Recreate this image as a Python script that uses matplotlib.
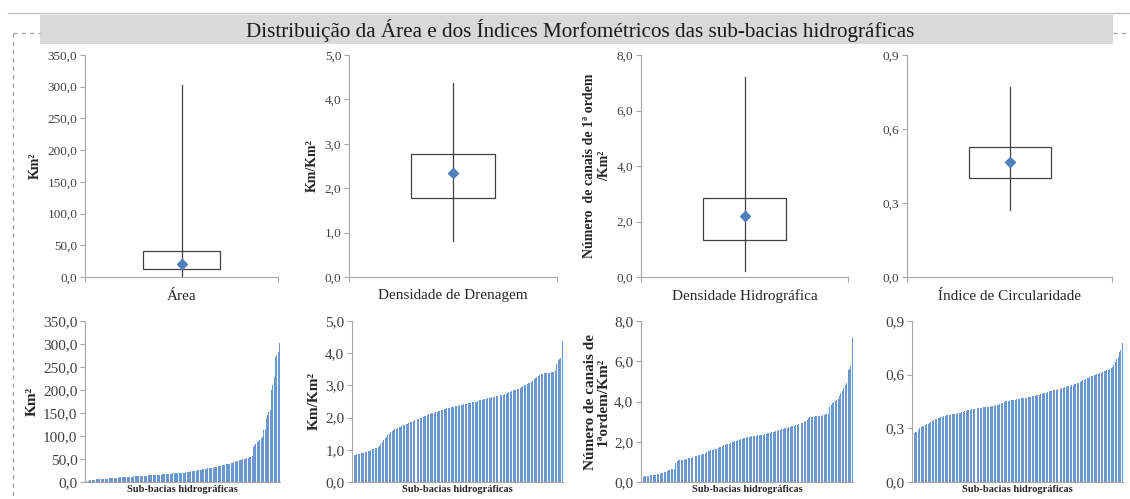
import matplotlib.pyplot as plt
from matplotlib.patches import Rectangle
from matplotlib.lines import Line2D
import numpy as np

plt.rcParams['font.family'] = ['Liberation Serif', 'DejaVu Serif']

W, H = 1130, 499

# dados
titulo = 'Distribuição da Área e dos Índices Morfométricos das sub-bacias hidrográficas'
nomes = ['Área', 'Densidade de Drenagem', 'Densidade Hidrográfica', 'Índice de Circularidade']
ylabels_top = ['Km²', 'Km/Km²', 'Número  de canais de 1ª ordem\n/Km²', '']
ylabels_bot = ['Km²', 'Km/Km²', 'Número de canais de\n1ªordem/Km²', '']
ymax = [350, 5, 8, 0.9]
ystep = [50, 1, 2, 0.3]

# min, q1, mediana, q3, max
stats_area = [1.2, 12.0, 20.0, 41.0, 303.0]
stats_dren = [0.80, 1.78, 2.35, 2.78, 4.37]
stats_hidro = [0.20, 1.35, 2.20, 2.85, 7.20]
stats_circ = [0.27, 0.40, 0.465, 0.525, 0.77]

area = [1.2, 2.0, 3.0, 3.8, 4.4, 4.8, 5.1, 5.4, 5.6, 5.8, 6.0, 6.2,
        6.4, 6.6, 6.8, 7.0, 7.3, 7.6, 7.9, 8.2, 8.5, 8.8, 9.0, 9.2, 9.4,
        9.6, 9.8, 10.0, 10.2, 10.4, 10.6, 10.8, 11.0, 11.2, 11.4, 11.6, 11.8, 12.0,
        12.2, 12.4, 12.6, 12.8, 13.0, 13.2, 13.4, 13.6, 13.8, 14.0, 14.2, 14.4, 14.6,
        14.8, 15.0, 15.2, 15.4, 15.6, 15.8, 16.0, 16.2, 16.5, 16.8, 17.1, 17.4, 17.7,
        18.0, 18.2, 18.4, 18.6, 18.8, 19.0, 19.2, 19.4, 19.6, 19.8, 19.9, 20.0,
        20.5, 21.0, 21.5, 22.0, 22.5, 23.0, 23.5, 24.0, 24.5, 25.0, 25.5, 26.0, 26.5,
        27.0, 27.5, 28.0, 28.5, 29.0, 29.5, 30.0, 30.5, 31.0, 31.5, 32.0, 32.5, 33.0,
        33.8, 34.6, 35.4, 36.2, 37.0, 37.8, 38.4, 39.0, 39.6, 40.2, 41.0,
        42.0, 43.0, 44.0, 45.0, 46.0, 47.0, 48.0, 48.5, 49.0, 50.0, 51.0, 52.0, 53.0, 54.0, 55.0,
        56, 77, 80, 83, 86, 89, 92, 95, 98, 112, 116, 140, 145, 152, 156, 200, 210, 229,
        272, 276, 282, 303]

drenagem = [0.80, 0.83, 0.85, 0.86, 0.87, 0.88, 0.89, 0.90, 0.91, 0.92,
            0.93, 0.95, 0.97, 0.99, 1.01, 1.03, 1.05, 1.07, 1.09, 1.13,
            1.19, 1.25, 1.31, 1.36, 1.40, 1.45, 1.50, 1.55, 1.59, 1.62,
            1.64, 1.66, 1.68, 1.70, 1.72, 1.74, 1.76, 1.78, 1.79, 1.81,
            1.83, 1.85, 1.87, 1.89, 1.91, 1.93, 1.95, 1.97, 1.98, 2.00,
            2.02, 2.04, 2.06, 2.08, 2.10, 2.12, 2.13, 2.14, 2.15, 2.16,
            2.17, 2.19, 2.21, 2.23, 2.25, 2.27, 2.28, 2.29, 2.30, 2.31,
            2.32, 2.33, 2.34, 2.35, 2.36, 2.37, 2.38, 2.39, 2.40, 2.41,
            2.42, 2.43, 2.44, 2.45, 2.46, 2.47, 2.48, 2.49, 2.50, 2.52,
            2.54, 2.55, 2.56, 2.57, 2.58, 2.59, 2.60, 2.61, 2.62, 2.63,
            2.64, 2.65, 2.66, 2.67, 2.68, 2.69, 2.70, 2.71, 2.72, 2.74,
            2.76, 2.78, 2.80, 2.83, 2.85, 2.86, 2.87, 2.88, 2.90, 2.93,
            2.96, 2.98, 3.00, 3.02, 3.04, 3.06, 3.08, 3.10, 3.14, 3.19,
            3.22, 3.25, 3.28, 3.31, 3.34, 3.36, 3.37, 3.38, 3.39, 3.40,
            3.40, 3.41, 3.42, 3.43, 3.44, 3.68, 3.78, 3.82, 3.86, 4.37]

hidro = [0.20, 0.25, 0.28, 0.30, 0.31, 0.32, 0.33, 0.34, 0.35, 0.36,
         0.37, 0.38, 0.40, 0.42, 0.44, 0.46, 0.48, 0.51, 0.54, 0.58,
         0.62, 0.64, 0.65, 0.66, 0.95, 1.05, 1.07, 1.08, 1.09, 1.10,
         1.11, 1.13, 1.15, 1.17, 1.19, 1.20, 1.22, 1.25, 1.28, 1.30,
         1.32, 1.34, 1.36, 1.38, 1.41, 1.45, 1.49, 1.53, 1.56, 1.58,
         1.60, 1.62, 1.64, 1.66, 1.69, 1.72, 1.76, 1.80, 1.83, 1.85,
         1.87, 1.89, 1.91, 1.94, 1.97, 2.00, 2.03, 2.06, 2.08, 2.10,
         2.13, 2.16, 2.18, 2.20, 2.22, 2.23, 2.24, 2.26, 2.27, 2.28,
         2.29, 2.30, 2.32, 2.33, 2.34, 2.35, 2.36, 2.37, 2.39, 2.41,
         2.43, 2.44, 2.46, 2.48, 2.50, 2.52, 2.54, 2.57, 2.60, 2.63,
         2.65, 2.67, 2.69, 2.70, 2.72, 2.74, 2.76, 2.78, 2.80, 2.82,
         2.84, 2.86, 2.88, 2.91, 2.94, 2.98, 3.04, 3.10, 3.17, 3.23,
         3.24, 3.25, 3.25, 3.26, 3.27, 3.28, 3.29, 3.30, 3.32, 3.34,
         3.36, 3.37, 3.38, 3.73, 3.85, 3.93, 3.97, 4.01, 4.05, 4.10,
         4.25, 4.40, 4.50, 4.65, 4.80, 4.93, 5.56, 5.62, 5.76, 7.22]

circ = [0.267, 0.272, 0.277, 0.281, 0.290, 0.300, 0.308, 0.311, 0.315, 0.318,
        0.322, 0.326, 0.330, 0.335, 0.340, 0.345, 0.350, 0.353, 0.356, 0.359,
        0.362, 0.365, 0.368, 0.370, 0.372, 0.374, 0.376, 0.377, 0.378, 0.379,
        0.380, 0.382, 0.384, 0.386, 0.388, 0.390, 0.392, 0.395, 0.398, 0.400,
        0.402, 0.404, 0.406, 0.408, 0.409, 0.410, 0.412, 0.414, 0.415, 0.416,
        0.417, 0.418, 0.419, 0.420, 0.421, 0.422, 0.423, 0.425, 0.427, 0.429,
        0.431, 0.433, 0.436, 0.440, 0.444, 0.448, 0.451, 0.453, 0.454, 0.455,
        0.456, 0.457, 0.458, 0.460, 0.462, 0.464, 0.465, 0.467, 0.469, 0.470,
        0.471, 0.472, 0.473, 0.474, 0.476, 0.478, 0.480, 0.482, 0.484, 0.486,
        0.488, 0.490, 0.492, 0.495, 0.498, 0.500, 0.503, 0.506, 0.508, 0.510,
        0.512, 0.514, 0.516, 0.518, 0.520, 0.522, 0.525, 0.528, 0.530, 0.532,
        0.534, 0.536, 0.538, 0.541, 0.544, 0.547, 0.550, 0.553, 0.556, 0.560,
        0.564, 0.568, 0.572, 0.576, 0.580, 0.584, 0.587, 0.590, 0.593, 0.596,
        0.599, 0.602, 0.605, 0.608, 0.611, 0.615, 0.619, 0.622, 0.625, 0.628,
        0.632, 0.638, 0.645, 0.655, 0.670, 0.688, 0.700, 0.725, 0.740, 0.775]

stats = [stats_area, stats_dren, stats_hidro, stats_circ]
series = [area, drenagem, hidro, circ]

# posição dos eixos em pixels (x0, y0, x1, y1)
top_pos = [(85, 55, 278, 277), (349, 55, 557, 277), (641, 55, 848, 277), (907, 55, 1112, 277)]
bot_pos = [(85, 321, 280, 482), (352, 321, 563, 482), (641, 321, 853, 482), (912, 321, 1123, 482)]

AXIS = '#A6A6A6'
TXT = '#404040'
BLUE = '#4F81BD'


def fig_box(x0, y0, x1, y1):
    # pixels (origem em cima à esquerda) -> fração da figura
    return [x0 / W, 1 - y1 / H, (x1 - x0) / W, (y1 - y0) / H]


def estilo(ax, i, fs):
    ticks = np.arange(0, ymax[i] + ystep[i] / 2, ystep[i])
    ax.set_ylim(0, ymax[i])
    ax.set_yticks(ticks)
    ax.set_yticklabels(['{:.1f}'.format(t).replace('.', ',') for t in ticks])
    for s in ['top', 'right']:
        ax.spines[s].set_visible(False)
    for s in ['left', 'bottom']:
        ax.spines[s].set_color(AXIS)
        ax.spines[s].set_linewidth(0.8)
    ax.tick_params(axis='y', colors=AXIS, labelcolor=TXT, labelsize=fs, length=3.5, width=0.8, pad=2)


fig = plt.figure(figsize=(W / 100, H / 100), dpi=100)

# faixa do título e linhas de moldura
fig.add_artist(Line2D([8 / W, 1], [1 - 13 / H, 1 - 13 / H], color='#BFBFBF', lw=1))
fig.add_artist(Rectangle((40 / W, 1 - 44 / H), (1113 - 40) / W, 29 / H, color='#D9D9D9', lw=0))
fig.add_artist(Line2D([13 / W, 40 / W], [1 - 33 / H, 1 - 33 / H], color='#A6A6A6', lw=1, ls=(0, (3, 3))))
fig.add_artist(Line2D([1113 / W, 1130 / W], [1 - 33 / H, 1 - 33 / H], color='#A6A6A6', lw=1, ls=(0, (3, 3))))
fig.add_artist(Line2D([13 / W, 13 / W], [1 - 33 / H, 0], color='#A6A6A6', lw=1, ls=(0, (3, 3))))
fig.text(580 / W, 1 - 30 / H, titulo, ha='center', va='center', fontsize=15.2, color='#1a1a1a')

# boxplots de cima
for i in range(4):
    ax = fig.add_axes(fig_box(*top_pos[i]))
    mn, q1, md, q3, mx = stats[i]
    ax.add_patch(Rectangle((0.3, q1), 0.4, q3 - q1, fill=False, ec=TXT, lw=0.9))
    ax.plot([0.5, 0.5], [mn, mx], color=TXT, lw=0.9)
    ax.plot(0.5, md, 'D', color=BLUE, ms=5.5)
    ax.set_xlim(0, 1)
    ax.set_xticks([0, 1])
    ax.set_xticklabels([])
    estilo(ax, i, 9.5)
    ax.tick_params(axis='x', colors=AXIS, length=3.5, width=0.8)
    ax.set_xlabel(nomes[i], fontsize=11, color='#262626', labelpad=2)
    if ylabels_top[i]:
        ax.set_ylabel(ylabels_top[i], fontsize=10, fontweight='bold', color='#262626', labelpad=4)

# barras de baixo
for i in range(4):
    ax = fig.add_axes(fig_box(*bot_pos[i]))
    vals = series[i]
    x = np.arange(len(vals))
    ax.bar(x, vals, width=0.7, color='#6B96CE', lw=0)
    ax.set_xlim(-0.5, len(vals) - 0.5)
    ax.set_xticks([])
    estilo(ax, i, 11)
    ax.set_xlabel('Sub-bacias hidrográficas', fontsize=7.5, fontweight='bold', color='#262626', labelpad=2)
    if ylabels_bot[i]:
        ax.set_ylabel(ylabels_bot[i], fontsize=11, fontweight='bold', color='#262626', labelpad=3,
                      linespacing=1.0)

plt.savefig('out.png', dpi=100)
